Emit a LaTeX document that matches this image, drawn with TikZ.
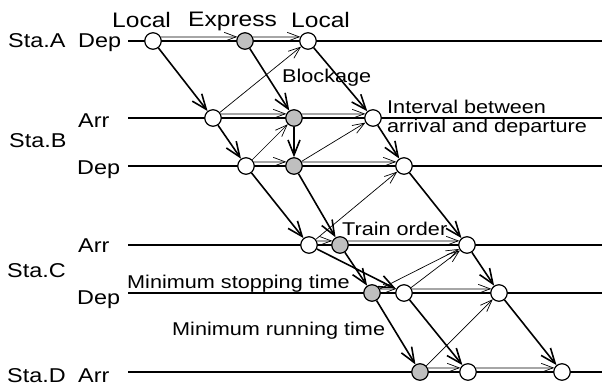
\documentclass[tikz,border=0pt]{standalone}
\usepackage{fontspec}
\setmainfont[FakeStretch=1.17]{Liberation Sans}
\usepackage{tikz}
\usetikzlibrary{arrows.meta, positioning}

\begin{document}
\begin{tikzpicture}[x=1pt, y=-1pt,
    track/.style={line width=1.7pt},
    run/.style={-{Straight Barb[length=15pt,width=12pt]}, line width=1.6pt},
    head/.style={-{Straight Barb[length=12pt,width=9pt]}, line width=0.7pt},
    order/.style={-{Straight Barb[length=12pt,width=9pt,color=black,line width=0.7pt]}, line width=1.5pt, gray!70},
    stop/.style={circle, draw, line width=1.2pt, minimum size=16.5pt, inner sep=0pt, fill=white},
    pass/.style={stop, fill=gray!50},
    lbl/.style={anchor=base west, inner sep=0pt, font=\fontsize{20}{24}\selectfont},
    note/.style={anchor=base west, inner sep=0pt, font=\fontsize{18.5}{19}\selectfont},
]
\useasboundingbox (0,0) rectangle (602,387);

% station lines
\foreach \y in {41,118,166,245,293,372}
  \draw[track] (128,\y) -- (602,\y);

% station labels
\node[lbl] (sa) at (8,47.5) {Sta.A};
\node[lbl] (sad) at (78,47.5) {Dep};
\node[lbl] (sba) at (78,128) {Arr};
\node[lbl] (sb) at (9,148) {Sta.B};
\node[lbl] (sbd) at (77,175) {Dep};
\node[lbl] (sca) at (78,253) {Arr};
\node[lbl] (sc) at (7,277) {Sta.C};
\node[lbl] (scd) at (77,305) {Dep};
\node[lbl] (sd) at (7,382) {Sta.D};
\node[lbl] (sda) at (78,382) {Arr};

% first local
\node[stop] (l1a) at (153,41) {};
\node[stop] (l1ba) at (213,118) {};
\node[stop] (l1bd) at (246,166) {};
\node[stop] (l1ca) at (309,245) {};
\node[stop] (l1cd) at (404,293) {};
\node[stop] (l1da) at (468,372) {};
% express
\node[pass] (ea) at (245,41) {};
\node[pass] (eba) at (294,118) {};
\node[pass] (ebd) at (294,166) {};
\node[pass] (eca) at (340,245) {};
\node[pass] (ecd) at (372,293) {};
\node[pass] (eda) at (420,372) {};
% second local
\node[stop] (l2a) at (308,41) {};
\node[stop] (l2ba) at (373,118) {};
\node[stop] (l2bd) at (404,166) {};
\node[stop] (l2ca) at (467,245) {};
\node[stop] (l2cd) at (499,293) {};
\node[stop] (l2da) at (562,372) {};

% running and stopping times
\draw[run] (l1a) -- (l1ba);
\draw[run] (l1ba) -- (l1bd);
\draw[run] (l1bd) -- (l1ca);
\draw[run] (l1ca) -- (l1cd);
\draw[run] (l1cd) -- (l1da);
\draw[run] (ea) -- (eba);
\draw[run] (eba) -- (ebd);
\draw[run] (ebd) -- (eca);
\draw[run] (eca) -- (ecd);
\draw[run] (ecd) -- (eda);
\draw[run] (l2a) -- (l2ba);
\draw[run] (l2ba) -- (l2bd);
\draw[run] (l2bd) -- (l2ca);
\draw[run] (l2ca) -- (l2cd);
\draw[run] (l2cd) -- (l2da);

% train order
\draw[order] (l1a.28) -- (ea.152);
\draw[order] (ea.28) -- (l2a.152);
\draw[order] (l1ba.28) -- (eba.152);
\draw[order] (eba.28) -- (l2ba.152);
\draw[order] (l1bd.28) -- (ebd.152);
\draw[order] (ebd.28) -- (l2bd.152);
\draw[order] (l1ca.28) -- (eca.152);
\draw[order] (eca.28) -- (l2ca.152);
\draw[order] (ecd.28) -- (l1cd.152);
\draw[order] (l1cd.28) -- (l2cd.152);
\draw[order] (eda.28) -- (l1da.152);
\draw[order] (l1da.28) -- (l2da.152);

% blockage / headway
\draw[head] (l1ba) -- (l2a);
\draw[head] (l1bd) -- (eba);
\draw[head] (ebd) -- (l2ba);
\draw[head] (l1ca) -- (l2bd);
\draw[head] (ecd) -- (l2ca);
\draw[head] (l1cd) -- (l2ca);
\draw[head] (eda) -- (l2cd);

% annotations
\node[lbl, font=\fontsize{21}{24}\selectfont] (tl1) at (112,28) {Local};
\node[lbl, font=\fontsize{21}{24}\selectfont] (te) at (188,27) {Express};
\node[lbl, font=\fontsize{21}{24}\selectfont] (tl2) at (291,28) {Local};
\node[note] (blk) at (282,83) {Blockage};
\node[note, anchor=north west, align=left] (itv) at (387,99.5) {Interval between\\arrival and departure};
\node[note] (ord) at (342,236) {Train order};
\node[note] (mst) at (127,288) {Minimum stopping time};
\node[note] (mrt) at (172,335) {Minimum running time};
\end{tikzpicture}
\end{document}
